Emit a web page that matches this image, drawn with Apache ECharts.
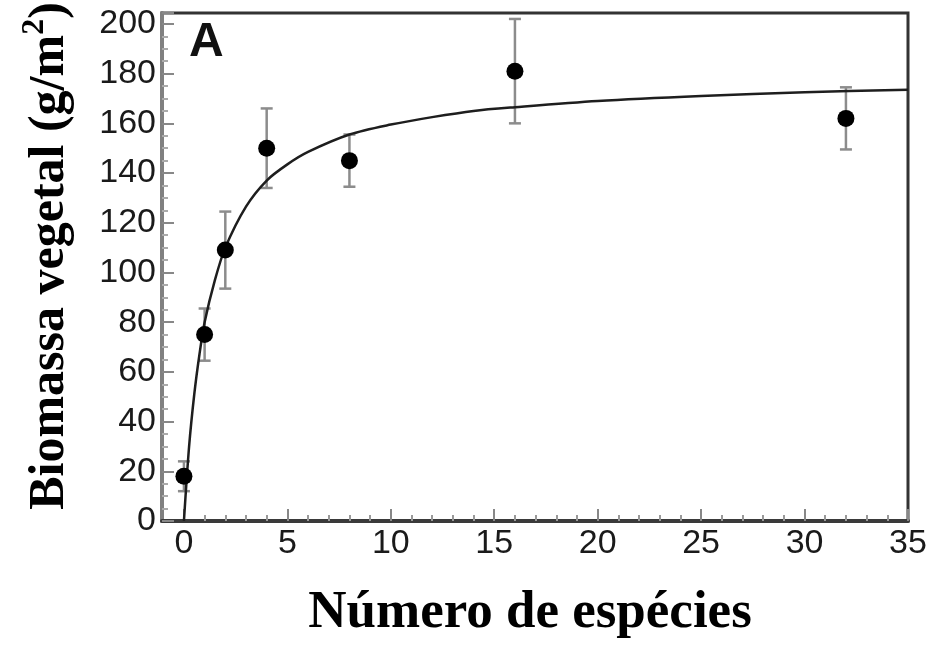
<!DOCTYPE html>
<html>
<head>
<meta charset="utf-8">
<script src="https://cdn.jsdelivr.net/npm/echarts@6/dist/echarts.min.js"></script>
<style>html,body{margin:0;padding:0;background:#fff}#c{width:942px;height:646px}</style>
</head>
<body>
<div id="c"></div>
<script>
// Data
const speciesCounts = [0, 1, 2, 4, 8, 16, 32];
const biomassMean   = [18, 75, 109, 150, 145, 181, 162];
const biomassErr    = [6, 10.5, 15.5, 16, 10.5, 21, 12.5];

// Fitted curve
const curveX = [0, 0.25, 0.5, 0.75, 1, 1.5, 2, 3, 4, 5, 6, 8, 10, 12, 14, 16, 20, 25, 30, 35];
const curveY = [0, 30, 51, 67, 80, 97, 110, 126.5, 137, 143.5, 148.5, 155.5, 159.5, 162.5, 165, 166.5, 169, 171, 172.5, 173.5];

// Tick labels
const xMajor = [0, 5, 10, 15, 20, 25, 30, 35];
const xMinor = [1,2,3,4,6,7,8,9,11,12,13,14,16,17,18,19,21,22,23,24,26,27,28,29,31,32,33,34];

const xTitle = 'Número de espécies';
const yTitleMain = 'Biomassa vegetal (g/m';
const panelLabel = 'A';

const chart = echarts.init(document.getElementById('c'), null, {renderer: 'canvas'});

const X_MIN = -1.06, X_MAX = 35, Y_MIN = 0, Y_MAX = 204.4, Y_STEP = 20;
const tickFont = 'Liberation Sans, Arial, sans-serif';

const pts = speciesCounts.map((x, i) => [x, biomassMean[i]]);
const errs = speciesCounts.map((x, i) => [x, biomassMean[i] - biomassErr[i], biomassMean[i] + biomassErr[i]]);
const curve = curveX.map((x, i) => [x, curveY[i]]);

chart.setOption({
  animation: false,
  backgroundColor: '#fff',
  grid: {left: 162, right: 34, top: 13, bottom: 125, show: true, borderColor: '#333', borderWidth: 3, backgroundColor: 'transparent'},
  xAxis: [
    {type: 'value', min: X_MIN, max: X_MAX,
     axisLine: {show: true, onZero: false, lineStyle: {color: '#3a3a3a', width: 4}},
     axisTick: {show: true, inside: true, length: 12, customValues: xMajor, lineStyle: {color: '#888', width: 2}},
     axisLabel: {show: true, customValues: xMajor, fontSize: 34, color: '#1a1a1a', fontFamily: tickFont, margin: 6},
     splitLine: {show: false}},
    {type: 'value', min: X_MIN, max: X_MAX, position: 'bottom',
     axisLine: {show: false, onZero: false},
     axisTick: {show: true, inside: true, length: 6, customValues: xMinor, lineStyle: {color: '#999', width: 2}},
     axisLabel: {show: false},
     splitLine: {show: false}}
  ],
  yAxis: [
    {type: 'value', min: Y_MIN, max: Y_MAX, interval: Y_STEP,
     axisLine: {show: true, onZero: false, lineStyle: {color: '#808080', width: 4}},
     axisTick: {show: true, inside: true, length: 12, lineStyle: {color: '#888', width: 2}},
     minorTick: {show: true, splitNumber: 4, length: 6, lineStyle: {color: '#aaa', width: 2}},
     axisLabel: {show: true, fontSize: 34, color: '#1a1a1a', fontFamily: tickFont, margin: 6, padding: [8, 0, 0, 0],
       formatter: function (v) { return (Math.abs(v % Y_STEP) < 1e-6) ? String(v) : ''; }},
     splitLine: {show: false}, minorSplitLine: {show: false}}
  ],
  series: [
    {type: 'custom', xAxisIndex: 0, yAxisIndex: 0, z: 1, data: errs,
     renderItem: function (params, api) {
       const x = api.value(0);
       const lo = api.coord([x, api.value(1)]);
       const hi = api.coord([x, api.value(2)]);
       const cap = 6;
       const st = {stroke: '#8c8c8c', lineWidth: 2.5};
       return {type: 'group', children: [
         {type: 'line', shape: {x1: lo[0], y1: lo[1], x2: hi[0], y2: hi[1]}, style: st},
         {type: 'line', shape: {x1: lo[0] - cap, y1: lo[1], x2: lo[0] + cap, y2: lo[1]}, style: st},
         {type: 'line', shape: {x1: hi[0] - cap, y1: hi[1], x2: hi[0] + cap, y2: hi[1]}, style: st}
       ]};
     }},
    {type: 'line', xAxisIndex: 0, yAxisIndex: 0, z: 2, data: curve, smooth: 0.3, showSymbol: false,
     lineStyle: {color: '#1e1e1e', width: 2.5}},
    {type: 'scatter', xAxisIndex: 0, yAxisIndex: 0, z: 3, data: pts, symbol: 'circle', symbolSize: 17,
     itemStyle: {color: '#000', opacity: 1}}
  ],
  graphic: [
    {type: 'text', left: 189, top: 19, z: 10,
     style: {text: panelLabel, font: 'bold 48px Liberation Sans, Arial, sans-serif', fill: '#111'}},
    {type: 'text', x: 530, y: 613, z: 10,
     style: {text: xTitle, font: 'bold 53px Liberation Serif, Times New Roman, serif', fill: '#000', align: 'center', verticalAlign: 'middle'}},
    {type: 'text', x: 47, y: 256, rotation: Math.PI / 2, z: 10,
     style: {text: '{a|' + yTitleMain + '}{s|2}{a|)}', align: 'center', verticalAlign: 'middle',
       rich: {
         a: {font: 'bold 50px Liberation Serif, Times New Roman, serif', fill: '#000', lineHeight: 56, verticalAlign: 'bottom'},
         s: {font: 'bold 32px Liberation Serif, Times New Roman, serif', fill: '#000', lineHeight: 56, verticalAlign: 'top', padding: [0, 0, 18, 0]}
       }}}
  ]
});
</script>
</body>
</html>
